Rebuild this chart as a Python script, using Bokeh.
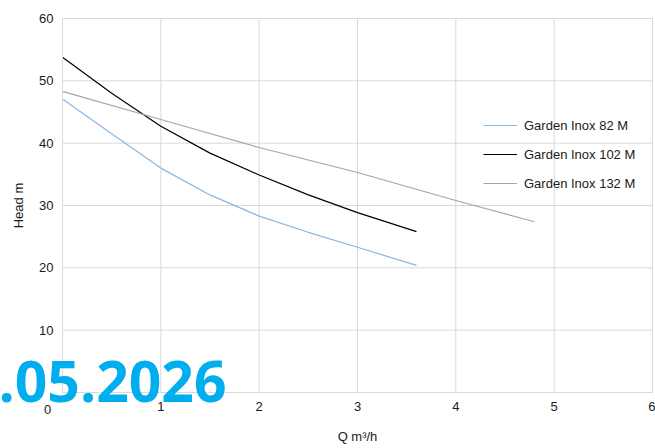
from bokeh.plotting import figure
from bokeh.models import Range1d, FixedTicker, Legend, LegendItem, Label
from bokeh.embed import file_html
from bokeh.resources import INLINE

# ---- data ----
q_82 = [0, 0.5, 1, 1.5, 2, 2.5, 3, 3.6]
h_82 = [47.1, 41.5, 36.0, 31.7, 28.3, 25.7, 23.3, 20.4]

q_102 = [0, 0.5, 1, 1.5, 2, 2.5, 3, 3.6]
h_102 = [53.8, 48.0, 42.7, 38.4, 34.9, 31.7, 28.85, 25.8]

q_132 = [0, 1, 2, 3, 4, 4.8]
h_132 = [48.3, 43.8, 39.3, 35.3, 30.8, 27.4]

series_names = ["Garden Inox 82 M", "Garden Inox 102 M", "Garden Inox 132 M"]
x_ticks = [0, 1, 2, 3, 4, 5, 6]
y_ticks = [0, 10, 20, 30, 40, 50, 60]
x_title = "Q m\u00b3/h"
y_title = "Head m"
watermark = ".05.2026"

FONT = "Liberation Sans"
GRID = "#D9D9D9"
TXT = "#1a1a1a"

W, H = 655, 448
# plot area inside the canvas (pixels): left 62, right 652, top 18, bottom 392
PL, PR, PT, PB = 62, 652, 18, 392
xmin, xmax = x_ticks[0], x_ticks[-1]
ymin, ymax = y_ticks[0], y_ticks[-1]
sx = (PR - PL) / (xmax - xmin)
sy = (PB - PT) / (ymax - ymin)

p = figure(width=W, height=H, output_backend="svg", toolbar_location=None,
           x_range=Range1d(xmin - PL / sx, xmax + (W - PR) / sx),
           y_range=Range1d(ymin - (H - PB) / sy, ymax + PT / sy),
           min_border=0)
p.outline_line_color = None
p.background_fill_color = "white"
p.border_fill_color = "white"
p.xgrid.visible = False
p.ygrid.visible = False

# grid lines limited to the plot area
p.segment(x0=x_ticks, y0=[ymin] * len(x_ticks), x1=x_ticks, y1=[ymax] * len(x_ticks),
          line_color=GRID, line_width=1)
p.segment(x0=[xmin] * len(y_ticks), y0=y_ticks, x1=[xmax] * len(y_ticks), y1=y_ticks,
          line_color=GRID, line_width=1)

for ax, ticks, bnds in ((p.xaxis[0], x_ticks, (xmin, xmax)), (p.yaxis[0], y_ticks, (ymin, ymax))):
    ax.ticker = FixedTicker(ticks=ticks)
    ax.bounds = bnds
    ax.fixed_location = 0
    ax.major_tick_line_color = None
    ax.minor_tick_line_color = None
    ax.major_tick_out = 0
    ax.major_tick_in = 0
    ax.minor_tick_out = 0
    ax.axis_line_color = GRID
    ax.major_label_text_font = FONT
    ax.major_label_text_font_size = "13px"
    ax.major_label_text_color = TXT
    ax.axis_label_text_font = FONT
    ax.axis_label_text_font_size = "13px"
    ax.axis_label_text_font_style = "normal"
    ax.axis_label_text_color = TXT
    ax.major_label_standoff = 9
    ax.major_label_overrides = {0: ""}

p.xaxis.axis_label = x_title
p.yaxis.axis_label = y_title
p.xaxis.axis_label_standoff = 15
p.yaxis.axis_label_standoff = 10

r1 = p.line(q_82, h_82, line_color="#8DB4E2", line_width=1.2)
r2 = p.line(q_102, h_102, line_color="#000000", line_width=1.2)
r3 = p.line(q_132, h_132, line_color="#A6A6A6", line_width=1.2)

legend = Legend(items=[LegendItem(label=series_names[0], renderers=[r1]),
                       LegendItem(label=series_names[1], renderers=[r2]),
                       LegendItem(label=series_names[2], renderers=[r3])],
                location=(483, H - 193), orientation="vertical",
                background_fill_alpha=0, border_line_alpha=0,
                padding=0, margin=0, spacing=9,
                glyph_width=34, glyph_height=20, label_height=20,
                label_standoff=7,
                label_text_font=FONT, label_text_font_size="13px",
                label_text_color=TXT)
p.add_layout(legend)

# the single "0" label shown at the origin corner
p.add_layout(Label(x=0, y=0, x_offset=-15, y_offset=-17, text="0",
                   text_align="center", text_baseline="middle",
                   text_font=FONT, text_font_size="13px", text_color=TXT))

# date watermark overlay
p.add_layout(Label(x=-2, y=67, x_units="screen", y_units="screen", text=watermark,
                   text_align="left", text_baseline="alphabetic",
                   text_font="Open Sans", text_font_style="bold",
                   text_font_size="57px", text_color="#00AEEF"))

open("out.html", "w").write(file_html(p, INLINE))
